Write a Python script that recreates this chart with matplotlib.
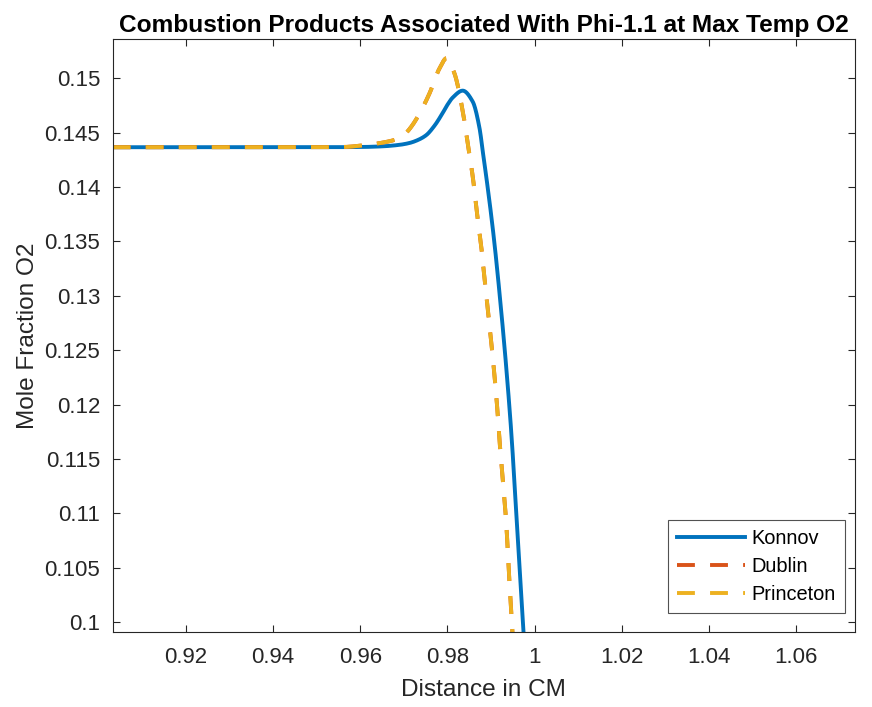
import matplotlib
matplotlib.use("Agg")
import matplotlib.pyplot as plt
import numpy as np

plt.rcParams['font.family'] = ['Liberation Sans', 'DejaVu Sans']

# Konnov mechanism
konnov_x = [0.9032, 0.9300, 0.9500, 0.9600, 0.9650, 0.9690, 0.9713, 0.9732, 0.9751,
            0.9770, 0.9789, 0.9800, 0.9812, 0.9835, 0.9858, 0.9873, 0.98835,
            0.9888, 0.9906, 0.9922, 0.9935, 0.99472, 0.99570, 0.99665, 0.99755]
konnov_y = [0.14366, 0.14366, 0.14366, 0.14368, 0.14374, 0.14388, 0.14405, 0.14432,
            0.14476, 0.14562, 0.14680, 0.14756, 0.14822, 0.14886, 0.14785,
            0.14555, 0.14255, 0.14127, 0.13550, 0.12920, 0.12338, 0.11703,
            0.11063, 0.10426, 0.0985]

# Dublin and Princeton mechanisms lie on top of each other
dublin_x = [0.9032, 0.9300, 0.9500, 0.9560, 0.9610, 0.9656, 0.9690, 0.9705, 0.9720,
            0.9740, 0.9759, 0.9782, 0.9798, 0.9816, 0.98359, 0.98478, 0.98588,
            0.98675, 0.98771, 0.98849, 0.98929, 0.99009, 0.99081, 0.99145,
            0.99200, 0.99261, 0.99325, 0.99373, 0.99412, 0.99460, 0.99500]
dublin_y = [0.14366, 0.14366, 0.14366, 0.14368, 0.14385, 0.14412, 0.14450, 0.14497,
            0.14571, 0.14706, 0.14862, 0.15092, 0.15184, 0.15046, 0.14679,
            0.14367, 0.14074, 0.13772, 0.13470, 0.13167, 0.12865, 0.12563,
            0.12260, 0.11957, 0.11645, 0.11352, 0.11050, 0.10747, 0.10445,
            0.10133, 0.0985]
princeton_x = dublin_x
princeton_y = dublin_y

labels = ["Konnov", "Dublin", "Princeton"]
colors = ["#0072BD", "#D95319", "#EDB120"]

xticks = [0.92, 0.94, 0.96, 0.98, 1.00, 1.02, 1.04, 1.06]
yticks = [0.10, 0.105, 0.11, 0.115, 0.12, 0.125, 0.13, 0.135, 0.14, 0.145, 0.15]


def pchip(xs, ys, n=1500):
    # monotone cubic (Fritsch-Carlson) so the read points join smoothly
    x = np.asarray(xs, float)
    y = np.asarray(ys, float)
    h = np.diff(x)
    d = np.diff(y) / h
    m = np.zeros_like(y)
    for k in range(1, len(x) - 1):
        if d[k - 1] * d[k] > 0:
            w1 = 2 * h[k] + h[k - 1]
            w2 = h[k] + 2 * h[k - 1]
            m[k] = (w1 + w2) / (w1 / d[k - 1] + w2 / d[k])
    m[0] = d[0]
    m[-1] = d[-1]
    xx = np.linspace(x[0], x[-1], n)
    idx = np.clip(np.searchsorted(x, xx) - 1, 0, len(x) - 2)
    t = (xx - x[idx]) / h[idx]
    h00 = 2 * t ** 3 - 3 * t ** 2 + 1
    h10 = t ** 3 - 2 * t ** 2 + t
    h01 = -2 * t ** 3 + 3 * t ** 2
    h11 = t ** 3 - t ** 2
    yy = (h00 * y[idx] + h10 * h[idx] * m[idx] +
          h01 * y[idx + 1] + h11 * h[idx] * m[idx + 1])
    return xx, yy


fig = plt.figure(figsize=(8.72, 7.07), dpi=100)
ax = fig.add_axes([0.1292, 0.1061, 0.8513, 0.8383])

kx, ky = pchip(konnov_x, konnov_y)
dx, dy = pchip(dublin_x, dublin_y)
px, py = pchip(princeton_x, princeton_y)

ax.plot(kx, ky, color=colors[0], lw=2.8, label=labels[0])
ax.plot(dx, dy, color=colors[1], lw=2.8, dashes=(4.6, 3.9), label=labels[1])
ax.plot(px, py, color=colors[2], lw=2.8, dashes=(4.6, 3.9), label=labels[2])

ax.set_xlim(0.9032, 1.0735)
ax.set_ylim(0.0991, 0.15358)

ax.set_xticks(xticks)
ax.set_xticklabels([f"{v:g}" for v in xticks])
ax.set_yticks(yticks)
ax.set_yticklabels([f"{v:g}" for v in yticks])

ax.tick_params(direction='in', top=True, right=True, length=5, width=0.8,
               colors='#262626', labelsize=16)
ax.tick_params(axis='x', pad=11)
ax.tick_params(axis='y', pad=9)
for sp in ax.spines.values():
    sp.set_color('#262626')
    sp.set_linewidth(0.8)

ax.set_title("Combustion Products Associated With Phi-1.1 at Max Temp O2",
             fontsize=17.6, fontweight='bold', pad=5)
ax.set_xlabel("Distance in CM", fontsize=17.6, color='#262626', labelpad=8)
ax.set_ylabel("Mole Fraction O2", fontsize=17.6, color='#262626', labelpad=4)

leg = ax.legend(loc='lower right', bbox_to_anchor=(0.9865, 0.032), borderaxespad=0,
                fontsize=14.4, handlelength=3.4, frameon=True, fancybox=False,
                edgecolor='#262626', labelspacing=0.45, handletextpad=0.35,
                borderpad=0.45)
leg.get_frame().set_linewidth(0.8)

fig.savefig("out.png", dpi=100)
